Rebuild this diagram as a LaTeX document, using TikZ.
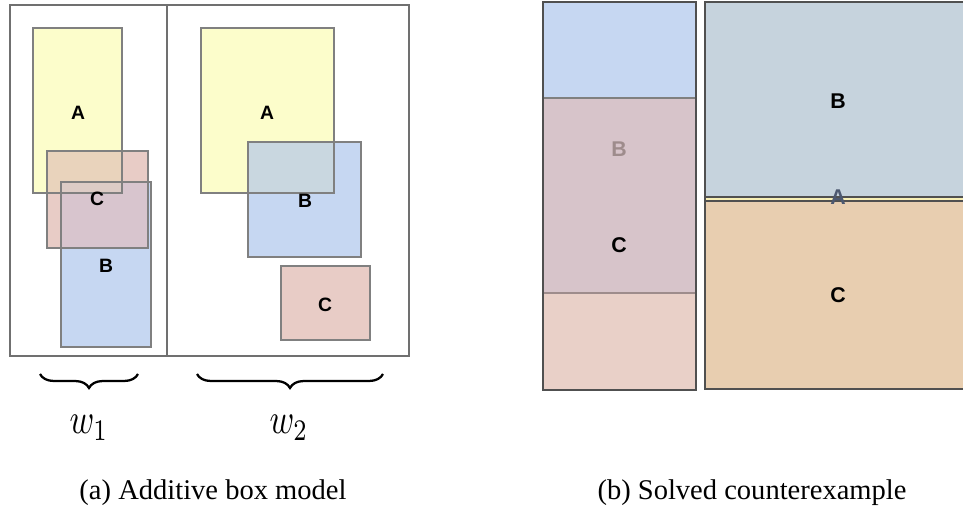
\documentclass[tikz,border=0pt]{standalone}
\usepackage{fontspec}
\setmainfont{Liberation Serif}
\newfontfamily\labelfont{Liberation Sans}
\usetikzlibrary{decorations.pathreplacing}

% fills of the single boxes and of their overlaps
\definecolor{fillA}{HTML}{FCFDCB}
\definecolor{fillB}{HTML}{C6D7F2}
\definecolor{fillC}{HTML}{E8CCC6}
\definecolor{fillAC}{HTML}{E9D3BC}
\definecolor{fillCB}{HTML}{D8C5CE}
\definecolor{fillACB}{HTML}{DDCCC6}
\definecolor{fillAB}{HTML}{C9D7E0}
% solved layout
\definecolor{colTop}{HTML}{C6D7F2}
\definecolor{colMid}{HTML}{D7C4CA}
\definecolor{colLow}{HTML}{E9D0C8}
\definecolor{bigB}{HTML}{C6D3DD}
\definecolor{bigA}{HTML}{F7EFB5}
\definecolor{bigC}{HTML}{E8CEB0}
% strokes and text
\definecolor{framegray}{HTML}{707070}
\definecolor{boxgray}{HTML}{808080}
\definecolor{darkedge}{HTML}{505050}
\definecolor{fadedB}{HTML}{9E8C8C}
\definecolor{fadedA}{HTML}{4C5870}

\begin{document}
\begin{tikzpicture}[x=0.75pt,y=-0.75pt,
  frame/.style={draw=framegray, line width=1.1pt},
  boxline/.style={draw=boxgray, line width=0.8pt},
  solvedline/.style={draw=darkedge, line width=1.4pt},
  boxlabel/.style={font=\labelfont\bfseries\fontsize{14.5}{15}\selectfont, text=black, inner sep=0pt},
  biglabel/.style={font=\labelfont\bfseries\fontsize{16}{17}\selectfont, text=black, inner sep=0pt},
  widthlabel/.style={inner sep=0pt},
  caption/.style={font=\fontsize{21.4}{26}\selectfont, inner sep=0pt},
  bracedeco/.style={decorate, decoration={brace, amplitude=10.5pt}, line width=1.7pt}]

\useasboundingbox (0,0) rectangle (963,516);

% ---------- (a) additive box model ----------
% first width: A, C, B stacked with overlaps
\fill[fillA] (33,28) rectangle (122,193);
\fill[fillC] (47,151) rectangle (148,248);
\fill[fillB] (61,182) rectangle (151,347);
\fill[fillAC] (47,151) rectangle (122,193);
\fill[fillCB] (61,182) rectangle (148,248);
\fill[fillACB] (61,182) rectangle (122,193);
\draw[boxline] (33,28) rectangle (122,193);
\draw[boxline] (47,151) rectangle (148,248);
\draw[boxline] (61,182) rectangle (151,347);

% second width: A and B overlap, C apart
\fill[fillA] (201,28) rectangle (334,193);
\fill[fillB] (248,142) rectangle (361,257);
\fill[fillAB] (248,142) rectangle (334,193);
\fill[fillC] (281,266) rectangle (370,340);
\draw[boxline] (201,28) rectangle (334,193);
\draw[boxline] (248,142) rectangle (361,257);
\draw[boxline] (281,266) rectangle (370,340);

% outer frame and divider
\draw[frame] (10,5) rectangle (409,356);
\draw[frame] (167,5) -- (167,356);

\node[boxlabel] (a1) at (78,113) {A};
\node[boxlabel] (c1) at (97,199) {C};
\node[boxlabel] (b1) at (106,266) {B};
\node[boxlabel] (a2) at (267,113) {A};
\node[boxlabel] (b2) at (305,201) {B};
\node[boxlabel] (c2) at (325,305) {C};

% width braces
\coordinate (w1L) at (40,374);
\coordinate (w1R) at (138,374);
\coordinate (w2L) at (197,374);
\coordinate (w2R) at (383,374);
\draw[bracedeco] (w1R) -- (w1L);
\draw[bracedeco] (w2R) -- (w2L);
\node[widthlabel] (w1) at (89,428) {\scalebox{2.5}[3.2]{$w_1$}};
\node[widthlabel] (w2) at (289,428) {\scalebox{2.5}[3.2]{$w_2$}};

\node[caption] (capa) at (213,493) {(a) Additive box model};

% ---------- (b) solved counterexample ----------
% narrow column
\fill[colTop] (543,2) rectangle (696,98);
\fill[colMid] (543,98) rectangle (696,293);
\fill[colLow] (543,293) rectangle (696,390);
\draw[draw=boxgray, line width=0.9pt] (543,98) -- (696,98);
\draw[draw=fadedB, line width=0.9pt] (543,293) -- (696,293);
\draw[solvedline] (543,2) rectangle (696,390);
\node[biglabel, text=fadedB] (b3) at (619,149) {B};
\node[biglabel] (c3) at (619,245) {C};

% wide block, running off the right edge
\fill[bigB] (705,2) rectangle (963,197);
\fill[bigA] (705,197) rectangle (963,201);
\fill[bigC] (705,201) rectangle (963,389);
\draw[draw=darkedge, line width=0.8pt] (705,197) -- (963,197);
\draw[draw=darkedge, line width=0.8pt] (705,201) -- (963,201);
\draw[solvedline] (963,2) -- (705,2) -- (705,389) -- (963,389);
\node[biglabel] (b4) at (838,101) {B};
\node[biglabel, text=fadedA] (a4) at (838,197) {A};
\node[biglabel] (c4) at (838,295) {C};

\node[caption] (capb) at (752,493) {(b) Solved counterexample};
\end{tikzpicture}
\end{document}
